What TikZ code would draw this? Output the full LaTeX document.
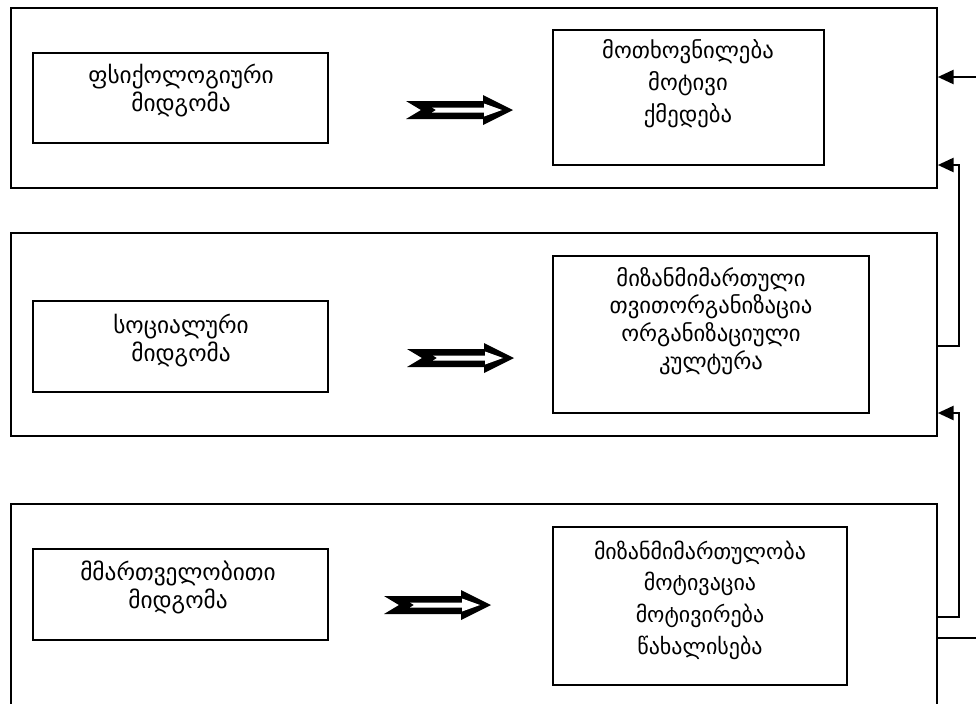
\documentclass[tikz,border=0pt]{standalone}
\usepackage{fontspec}
\newfontfamily\geofont{DejaVu Sans}
\usetikzlibrary{fit,arrows.meta}

\tikzset{
  outerbox/.style={draw, line width=1.1pt, inner sep=0pt},
  innerbox/.style={draw, line width=1.1pt, inner sep=0pt},
  lbl/.style={align=center, inner sep=0pt},
  leftlbl/.style={lbl, font=\geofont\fontsize{17.5}{21}\selectfont},
  fb/.style={line width=2.1pt, -{Triangle[length=12pt,width=10.5pt]}},
  fbline/.style={line width=2.1pt},
  pics/hollowarrow/.style={code={
    \fill (0,-9) -- (77,-9) -- (77,-15) -- (107,0) -- (77,15) -- (77,9) -- (0,9) -- (15,0) -- cycle;
    \fill[white] (26,-2.5) -- (78,-2.5) -- (78,-6.5) -- (96,0) -- (78,6.5) -- (78,2.5) -- (26,2.5) -- (30,0) -- cycle;
  }}
}

\begin{document}
\begin{tikzpicture}[x=0.75pt, y=-0.75pt]
  \useasboundingbox (0,0) rectangle (976,704);
  \clip (0,0) rectangle (976,704);

  % three approach panels
  \node[outerbox, fit={(11,8) (937,188)}] (g1) {};
  \node[outerbox, fit={(11,233) (937,436)}] (g2) {};
  \node[outerbox, fit={(11,504) (937,730)}] (g3) {};

  % approach names
  \node[innerbox, fit={(33,53) (328,143)}] (l1) {};
  \node[innerbox, fit={(33,301) (328,392)}] (l2) {};
  \node[innerbox, fit={(33,549) (328,640)}] (l3) {};
  \node[leftlbl] (l1t) at (181,91) {ფსიქოლოგიური\\მიდგომა};
  \node[leftlbl] (l2t) at (181,341) {სოციალური\\მიდგომა};
  \node[leftlbl] (l3t) at (178,587) {მმართველობითი\\მიდგომა};

  % content of each approach
  \node[innerbox, fit={(553,30) (824,165)}] (r1) {};
  \node[innerbox, fit={(553,256) (869,413)}] (r2) {};
  \node[innerbox, fit={(553,527) (847,685)}] (r3) {};
  \node[lbl, font=\geofont\fontsize{17}{24}\selectfont] (r1t) at (688,84)
    {მოთხოვნილება\\მოტივი\\ქმედება};
  \node[lbl, font=\geofont\fontsize{17}{20.8}\selectfont] (r2t) at (711,321)
    {მიზანმიმართული\\თვითორგანიზაცია\\ორგანიზაციული\\კულტურა};
  \node[lbl, font=\geofont\fontsize{16.5}{23.8}\selectfont] (r3t) at (700,600)
    {მიზანმიმართულობა\\მოტივაცია\\მოტივირება\\წახალისება};

  % hollow arrows from approach to content
  \pic at (406,110) {hollowarrow};
  \pic at (407,358) {hollowarrow};
  \pic at (384,605) {hollowarrow};

  % feedback links along the right side
  \coordinate (ext1) at (976,77);
  \coordinate (ext2) at (976,638);
  \draw[fb] (ext1) -- (g1.east |- ext1);
  \draw[fb] (g2.east |- 0,346) -| (959,165) -- (g1.east |- 0,165);
  \draw[fb] (g3.east |- 0,617) -| (959,413) -- (g2.east |- 0,413);
  \draw[fbline] (g3.east |- ext2) -- (ext2);
\end{tikzpicture}
\end{document}
